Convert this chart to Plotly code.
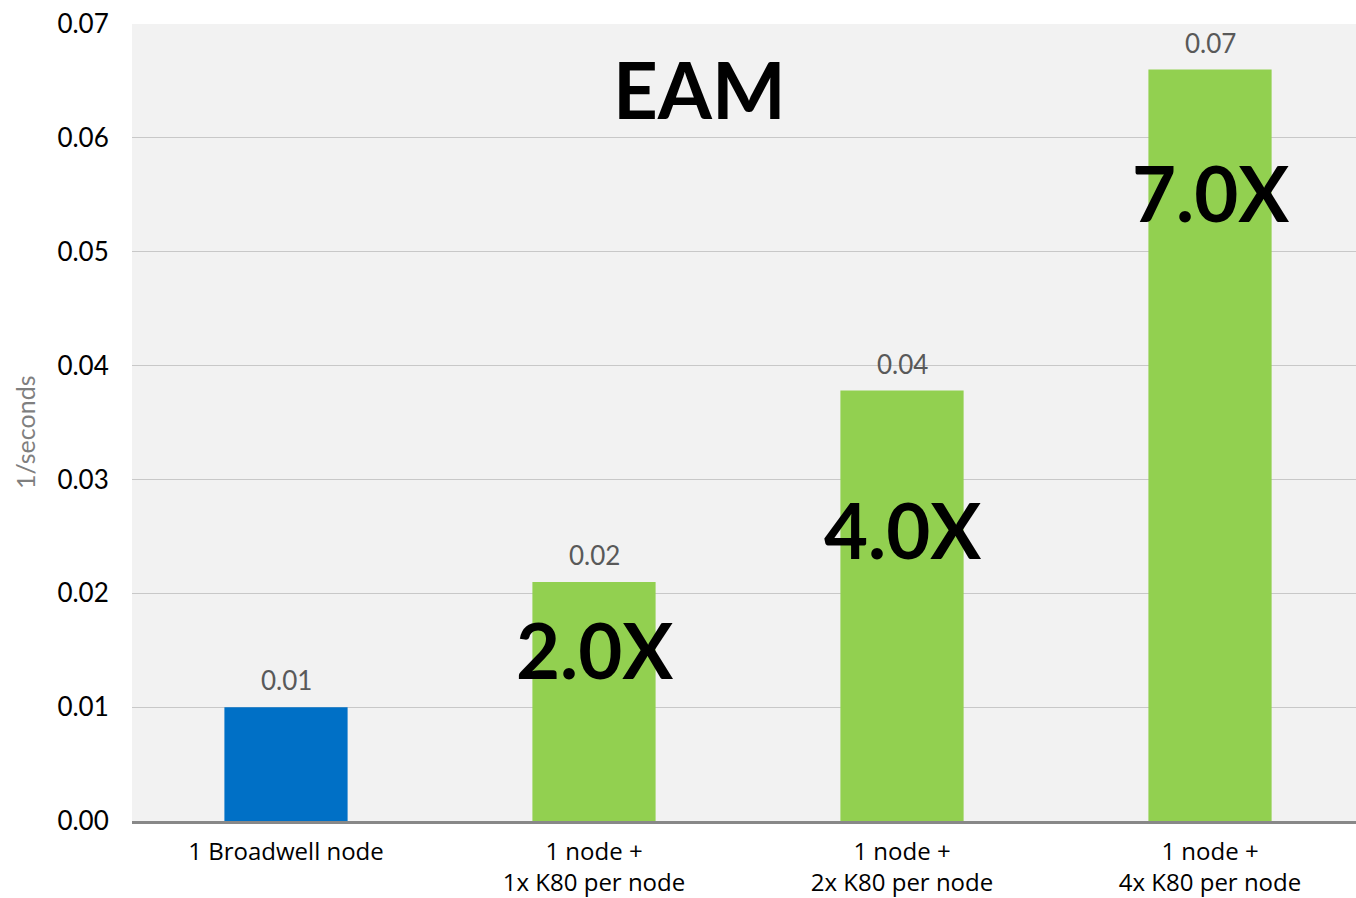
import plotly.graph_objects as go

categories = ["1 Broadwell node", "1 node +<br>1x K80 per node",
              "1 node +<br>2x K80 per node", "1 node +<br>4x K80 per node"]
values = [0.0100, 0.0210, 0.0378, 0.0660]
bar_colors = ["#0070c6", "#92d050", "#92d050", "#92d050"]
speedups = ["", "2.0X", "4.0X", "7.0X"]
speedup_y = [None, 0.0151, 0.0256, 0.0552]
y_ticks = [0.00, 0.01, 0.02, 0.03, 0.04, 0.05, 0.06, 0.07]

FONT = "Lato"
CAT_FONT = "Open Sans"

fig = go.Figure()
fig.add_trace(go.Bar(
    x=categories, y=values, marker=dict(color=bar_colors, line=dict(width=0)),
    hoverinfo="skip",
))

annotations = []
for c, v in zip(categories, values):
    annotations.append(dict(x=c, y=v, xref="x", yref="y", text=f"{v:.2f}",
                            showarrow=False, yanchor="bottom", yshift=9,
                            font=dict(family=FONT, size=26, color="#595959")))
for c, s, sy in zip(categories, speedups, speedup_y):
    if s:
        annotations.append(dict(x=c, y=sy, xref="x", yref="y", text=f"<b>{s}</b>",
                                showarrow=False, yanchor="middle",
                                font=dict(family=FONT, size=76, color="black")))
annotations.append(dict(x=0.464, y=0.918, xref="paper", yref="paper", text="<b>EAM</b>",
                        showarrow=False, yanchor="middle", xanchor="center",
                        font=dict(family=FONT, size=78, color="black")))
annotations.append(dict(x=0, y=0.488, xref="paper", yref="paper", text="1/seconds",
                        showarrow=False, textangle=-90, xanchor="center", yanchor="middle",
                        xshift=-107, font=dict(family=FONT, size=25, color="#7f7f7f")))

fig.update_layout(
    width=1356, height=898,
    margin=dict(l=132, r=0, t=24, b=77, autoexpand=False),
    paper_bgcolor="white", plot_bgcolor="#f2f2f2",
    bargap=0.6, showlegend=False,
    font=dict(family=FONT, size=26, color="black"),
    annotations=annotations,
    xaxis=dict(showgrid=False, showline=True, linecolor="#888888", linewidth=3,
               range=[-0.5, 3.474],
               tickfont=dict(family=CAT_FONT, size=24, color="black"), automargin=False,
               ticks="outside", ticklen=7, tickcolor="rgba(0,0,0,0)"),
    yaxis=dict(range=[0, 0.07], tickvals=y_ticks, tickformat=".2f", automargin=False,
               showgrid=True, gridcolor="#c8c8c8", gridwidth=1, zeroline=False,
               ticks="outside", ticklen=17, tickcolor="rgba(0,0,0,0)",
               tickfont=dict(size=26, color="black")),
)

fig.write_html("out.html", config={"displayModeBar": False},
               post_script="document.body.style.margin='0';")
